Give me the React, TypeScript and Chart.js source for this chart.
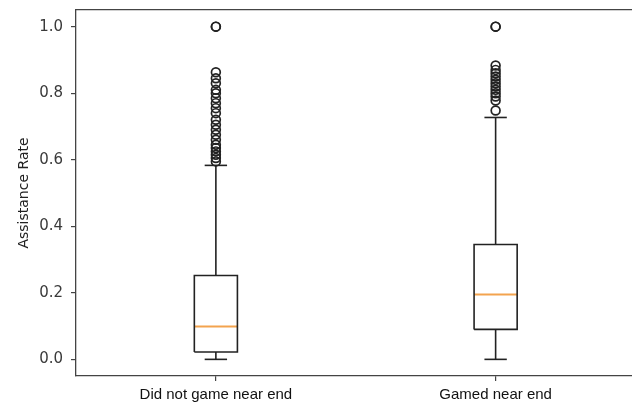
import React, { useEffect, useRef } from "react";
import { Chart, registerables } from "chart.js";

Chart.register(...registerables);

const categories = ["Did not game near end", "Gamed near end"];
const positions = [1, 2];
const q1 = [0.022, 0.09];
const medians = [0.099, 0.195];
const q3 = [0.252, 0.345];
const whiskerLow = [0.0, 0.0];
const whiskerHigh = [0.583, 0.727];
const outliersA = [1.0, 1.0, 0.863, 0.845, 0.83, 0.81, 0.8, 0.785, 0.77, 0.755, 0.74, 0.72, 0.705, 0.69, 0.675, 0.66, 0.645, 0.635, 0.625, 0.615, 0.605, 0.595];
const outliersB = [1.0, 1.0, 0.883, 0.87, 0.86, 0.85, 0.84, 0.83, 0.82, 0.81, 0.8, 0.79, 0.778, 0.748];
const yTicks = [0, 0.2, 0.4, 0.6, 0.8, 1.0];

const BOX_HALF = 0.077;
const CAP_HALF = 0.04;
const LINE_COLOR = "#222222";
const MEDIAN_COLOR = "#f3a34e";

function lineDs(points: { x: number; y: number }[], color: string, width: number) {
  return {
    type: "line" as const,
    data: points,
    showLine: true,
    borderColor: color,
    borderWidth: width,
    pointRadius: 0,
    fill: false,
    tension: 0,
  };
}

function noPad(s: any) {
  s.paddingTop = 0;
  s.paddingBottom = 0;
  s.paddingLeft = 0;
  s.paddingRight = 0;
}

export default function App() {
  const ref = useRef<HTMLCanvasElement | null>(null);

  useEffect(() => {
    document.body.style.margin = "0";
    const canvas = ref.current;
    if (!canvas) return;
    const datasets: any[] = [];
    const allOutliers = [outliersA, outliersB];
    positions.forEach((p, i) => {
      datasets.push(
        lineDs(
          [
            { x: p - BOX_HALF, y: q1[i] },
            { x: p + BOX_HALF, y: q1[i] },
            { x: p + BOX_HALF, y: q3[i] },
            { x: p - BOX_HALF, y: q3[i] },
            { x: p - BOX_HALF, y: q1[i] },
          ],
          LINE_COLOR,
          1.6
        )
      );
      datasets.push(lineDs([{ x: p, y: q3[i] }, { x: p, y: whiskerHigh[i] }], LINE_COLOR, 1.6));
      datasets.push(lineDs([{ x: p, y: q1[i] }, { x: p, y: whiskerLow[i] }], LINE_COLOR, 1.6));
      datasets.push(lineDs([{ x: p - CAP_HALF, y: whiskerHigh[i] }, { x: p + CAP_HALF, y: whiskerHigh[i] }], LINE_COLOR, 1.6));
      datasets.push(lineDs([{ x: p - CAP_HALF, y: whiskerLow[i] }, { x: p + CAP_HALF, y: whiskerLow[i] }], LINE_COLOR, 1.6));
      datasets.push(lineDs([{ x: p - BOX_HALF, y: medians[i] }, { x: p + BOX_HALF, y: medians[i] }], MEDIAN_COLOR, 2));
      datasets.push({
        type: "scatter" as const,
        data: allOutliers[i].map((v) => ({ x: p, y: v })),
        showLine: false,
        pointRadius: 4.4,
        pointBorderWidth: 1.7,
        pointBorderColor: LINE_COLOR,
        pointBackgroundColor: "rgba(0,0,0,0)",
      });
    });

    const chart = new Chart(canvas, {
      type: "scatter",
      data: { datasets },
      options: {
        animation: false,
        responsive: true,
        maintainAspectRatio: false,
        layout: { autoPadding: false, padding: { top: 10, right: 0, left: 0, bottom: 0 } },
        plugins: { legend: { display: false }, tooltip: { enabled: false } },
        scales: {
          x: {
            type: "linear",
            min: 0.5,
            max: 2.4875,
            position: "bottom",
            afterBuildTicks: (s: any) => {
              s.ticks = positions.map((v) => ({ value: v }));
            },
            afterFit: (s: any) => {
              s.height = 33;
              noPad(s);
            },
            grid: { drawOnChartArea: false, drawTicks: true, tickLength: 5, color: "#444", lineWidth: 1.2 },
            border: { display: true, color: "#444", width: 1.3 },
            ticks: {
              padding: 5,
              color: "#111",
              font: { family: "Liberation Sans", size: 15 },
              callback: (v: any) => categories[positions.indexOf(Number(v))] ?? "",
              maxRotation: 0,
              autoSkip: false,
            },
          },
          x2: {
            type: "linear",
            min: 0.5,
            max: 2.4875,
            position: "top",
            afterFit: (s: any) => {
              s.height = 0;
              noPad(s);
            },
            grid: { drawOnChartArea: false, drawTicks: false },
            border: { display: true, color: "#444", width: 1.3 },
            ticks: { display: false },
          },
          y: {
            type: "linear",
            min: -0.05,
            max: 1.05,
            afterBuildTicks: (s: any) => {
              s.ticks = yTicks.map((v) => ({ value: v }));
            },
            afterFit: (s: any) => {
              s.width = 76;
              noPad(s);
            },
            grid: { drawOnChartArea: false, drawTicks: true, tickLength: 5, color: "#444", lineWidth: 1.2 },
            border: { display: true, color: "#444", width: 1.3 },
            title: {
              display: true,
              text: "Assistance Rate",
              color: "#222",
              font: { family: "DejaVu Sans", size: 14 },
              padding: { top: 15.5, bottom: 0 },
            },
            ticks: {
              padding: 8,
              color: "#3a3a3a",
              font: { family: "DejaVu Sans", size: 15 },
              callback: (v: any) => Number(v).toFixed(1),
            },
          },
        },
      },
    } as any);
    return () => chart.destroy();
  }, []);

  return (
    <div style={{ position: "relative", width: 632, height: 409 }}>
      <canvas ref={ref} />
    </div>
  );
}
